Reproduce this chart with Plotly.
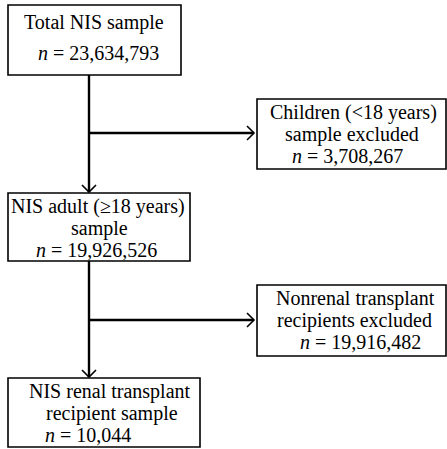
import plotly.graph_objects as go

# ---- data (flowchart content) ----
main_titles = [["Total NIS sample"],
               ["NIS adult (≥18 years)", "sample"],
               ["NIS renal transplant", "recipient sample"]]
main_counts = ["23,634,793", "19,926,526", "10,044"]
excl_titles = [["Children (<18 years)", "sample excluded"],
               ["Nonrenal transplant", "recipients excluded"]]
excl_counts = ["3,708,267", "19,916,482"]

# ---- layout geometry (pixels, y downwards) ----
W, H = 447, 449
main_boxes = [(8, 181, 5, 75), (8, 190, 193, 261), (8, 200, 378, 447)]
excl_boxes = [(257, 446, 99, 169), (257, 446, 285, 356)]
main_line_y = [[22, 53], [206, 228, 250], [391, 413, 435]]
main_line_x = [[94, 98], [98, 99, 96], [110, 112, 88]]
excl_line_y = [[112, 134, 156], [298, 320, 342]]
excl_line_x = [[353, 352, 347], [355, 354, 360]]
spine_x = 89
branch_y = [133, 320]
FONT = "Liberation Serif"
FS = 20

shapes, annos = [], []

def rect(b):
    x0, x1, y0, y1 = b
    shapes.append(dict(type="rect", xref="x", yref="y", x0=x0, x1=x1, y0=y0, y1=y1,
                       line=dict(color="black", width=1.6), fillcolor="white", layer="below"))

def line(x0, y0, x1, y1):
    shapes.append(dict(type="line", xref="x", yref="y", x0=x0, y0=y0, x1=x1, y1=y1,
                       line=dict(color="black", width=2.4)))

def head(x, y, dx, dy, s=7):
    px, py = -dy, dx
    shapes.append(dict(type="path", xref="x", yref="y",
                       path=f"M{x - dx*s + px*s},{y - dy*s + py*s} L{x},{y} L{x - dx*s - px*s},{y - dy*s - py*s}",
                       line=dict(color="black", width=1.6)))

def text(x, y, t):
    annos.append(dict(x=x, y=y, xref="x", yref="y", text=t, showarrow=False,
                      xanchor="center", yanchor="middle",
                      font=dict(family=FONT, size=FS, color="black")))

for b in main_boxes + excl_boxes:
    rect(b)

for i, (titles, cnt) in enumerate(zip(main_titles, main_counts)):
    lines = titles + [f"<i>n</i> = {cnt}"]
    for t, x, y in zip(lines, main_line_x[i], main_line_y[i]):
        text(x, y, t)

for i, (titles, cnt) in enumerate(zip(excl_titles, excl_counts)):
    lines = titles + [f"<i>n</i> = {cnt}"]
    for t, x, y in zip(lines, excl_line_x[i], excl_line_y[i]):
        text(x, y, t)

for k in range(2):
    top = main_boxes[k][3]
    bot = main_boxes[k + 1][2] - 1
    line(spine_x, top, spine_x, bot)
    head(spine_x, bot, 0, 1)
    bx = excl_boxes[k][0] - 3
    line(spine_x, branch_y[k], bx, branch_y[k])
    head(bx, branch_y[k], 1, 0)

fig = go.Figure()
fig.update_layout(width=W, height=H, margin=dict(l=0, r=0, t=0, b=0),
                  paper_bgcolor="white", plot_bgcolor="white",
                  xaxis=dict(range=[0, W], visible=False, fixedrange=True),
                  yaxis=dict(range=[H, 0], visible=False, fixedrange=True),
                  shapes=shapes, annotations=annos, showlegend=False)
fig.write_html("out.html", config={"displayModeBar": False})

with open("out.html", encoding="utf-8") as f:
    html = f.read()
html = html.replace("<head>", "<head><style>html,body{margin:0;padding:0;overflow:hidden;}</style>", 1)
with open("out.html", "w", encoding="utf-8") as f:
    f.write(html)
